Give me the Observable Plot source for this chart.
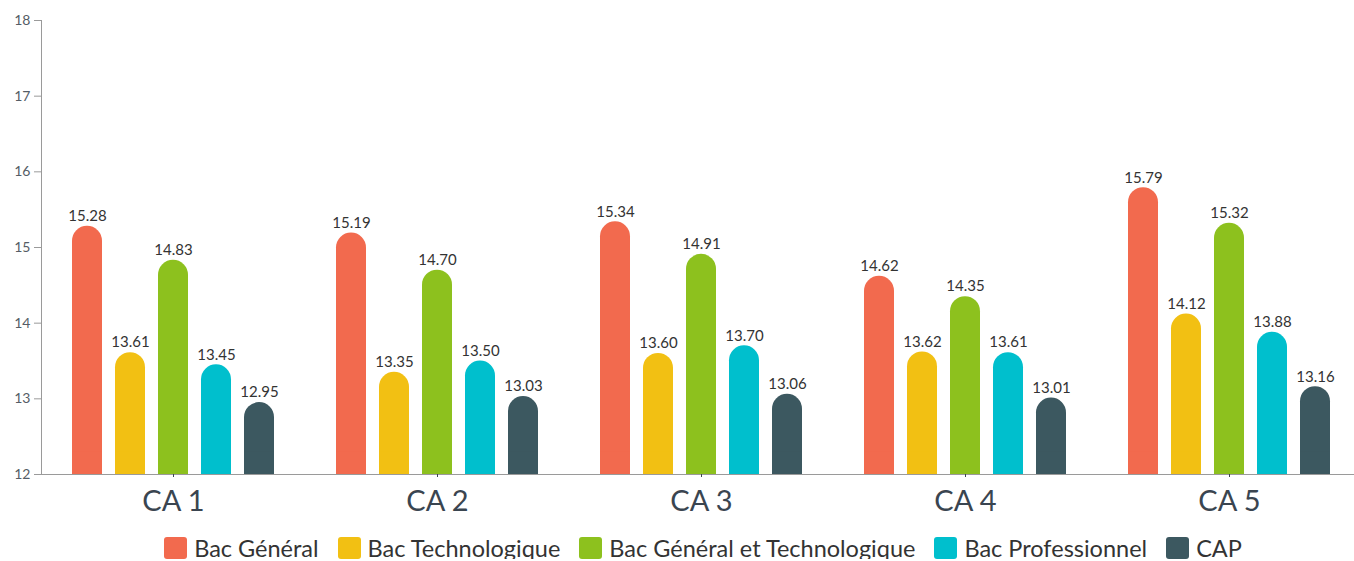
<!DOCTYPE html>
<html>
<head>
<meta charset="utf-8">
<script src="https://cdn.jsdelivr.net/npm/d3@7"></script>
<script src="https://cdn.jsdelivr.net/npm/@observablehq/plot@0.6"></script>
<style>
  html, body { margin: 0; padding: 0; background: #fff; overflow: hidden; width: 1354px; }
  #chart svg { display: block; }
  #legend { display: flex; justify-content: center; align-items: center; margin-top: 17px; width: 1354px;
    box-sizing: border-box; padding-left: 52px;
    font-family: Lato, sans-serif; font-size: 23.5px; color: #333; line-height: 22px; }
  #legend .item { display: inline-flex; align-items: center; margin-right: 19px; white-space: nowrap; }
  #legend .item:last-child { margin-right: 0; }
  #legend .sw { width: 23px; height: 22px; border-radius: 3px; margin-right: 7px; flex: none; }
</style>
</head>
<body>
<div id="chart"></div>
<div id="legend"></div>
<script>
const categories = ["CA 1", "CA 2", "CA 3", "CA 4", "CA 5"];
const series = ["Bac Général", "Bac Technologique", "Bac Général et Technologique", "Bac Professionnel", "CAP"];
const colors = ["#F26A4E", "#F2C013", "#8DC11E", "#00BFCD", "#3C5860"];
const bacGeneral = [15.28, 15.19, 15.34, 14.62, 15.79];
const bacTechno = [13.61, 13.35, 13.60, 13.62, 14.12];
const bacGenTechno = [14.83, 14.70, 14.91, 14.35, 15.32];
const bacPro = [13.45, 13.50, 13.70, 13.61, 13.88];
const cap = [12.95, 13.03, 13.06, 13.01, 13.16];
const yTicks = [12, 13, 14, 15, 16, 17, 18];

const seriesValues = [bacGeneral, bacTechno, bacGenTechno, bacPro, cap];
const data = [];
categories.forEach((ca, i) => {
  series.forEach((s, j) => data.push({ca, series: s, value: seriesValues[j][i]}));
});

const chart = Plot.plot({
  width: 1362,
  height: 520,
  marginLeft: 39,
  marginRight: 0,
  marginTop: 20,
  marginBottom: 46,
  style: {fontFamily: "Lato, sans-serif", maxWidth: "none", overflow: "visible"},
  fx: {domain: categories, padding: 0, label: null},
  x: {domain: series, paddingInner: 0.306, paddingOuter: 0.711, axis: null},
  y: {domain: [12, 18], label: null},
  color: {domain: series, range: colors},
  marks: [
    Plot.frame({anchor: "left", facetAnchor: "left", stroke: "#9a9a9a"}),
    Plot.barY(data, {fx: "ca", x: "series", y1: 12, y2: "value", fill: "series", rx: 15}),
    Plot.barY(data, {fx: "ca", x: "series", y1: 12, y2: d => Math.min(d.value, 12.3), fill: "series"}),
    Plot.ruleY([12], {stroke: "#9a9a9a"}),
    Plot.text(data, {fx: "ca", x: "series", y: "value", text: d => d.value.toFixed(2), dy: -10, fontSize: 15, fill: "#333"}),
    Plot.axisY({ticks: yTicks, tickFormat: d => d, tickSize: 7, tickPadding: 4, fontSize: 14, color: "#555d66", stroke: "#9a9a9a"}),
    Plot.axisFx({anchor: "bottom", tickSize: 3, tickPadding: 13, fontSize: 29, color: "#3a4550", label: null})
  ]
});
document.getElementById("chart").appendChild(chart);

const legend = document.getElementById("legend");
series.forEach((s, i) => {
  const item = document.createElement("span");
  item.className = "item";
  const sw = document.createElement("span");
  sw.className = "sw";
  sw.style.background = colors[i];
  item.appendChild(sw);
  item.appendChild(document.createTextNode(s));
  legend.appendChild(item);
});
</script>
</body>
</html>
